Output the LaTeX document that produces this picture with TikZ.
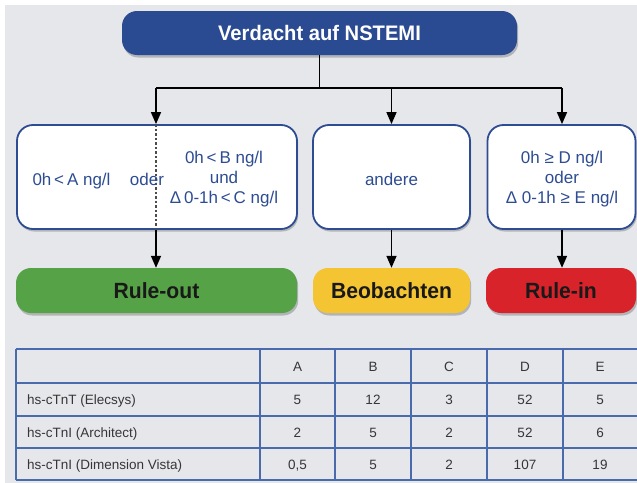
\documentclass[tikz,border=0pt]{standalone}
\usepackage{fontspec}
\setmainfont{Liberation Sans}
\newfontfamily\condbf[FakeStretch=0.96]{Liberation Sans}
\usetikzlibrary{arrows.meta,shadows}
\definecolor{bgray}{HTML}{E5E7EB}
\definecolor{topblue}{HTML}{2A4A91}
\definecolor{lineblue}{HTML}{2D4C92}
\definecolor{tabblue}{HTML}{4A6AAE}
\definecolor{okgreen}{HTML}{55A247}
\definecolor{warnyellow}{HTML}{F4C433}
\definecolor{alarmred}{HTML}{D8232A}
\definecolor{tabtext}{HTML}{363636}
\begin{document}
\begin{tikzpicture}[x=1pt,y=-1pt,
  shad/.style={drop shadow={shadow xshift=1.2pt,shadow yshift=-2.5pt,opacity=0.22,fill=black}},
  flowbox/.style={shad,draw=lineblue,line width=1.8pt,fill=white,rounded corners=16pt,inner sep=0pt},
  resbox/.style={shad,rounded corners=15pt,inner sep=0pt,minimum height=45,text=black!90,
    font=\condbf\bfseries\fontsize{22}{24}\selectfont},
  btxt/.style={text=lineblue,font=\fontsize{17}{20}\selectfont,align=center,inner sep=0pt,anchor=base},
  ttxt/.style={text=tabtext,font=\fontsize{13.5}{16}\selectfont,inner sep=0pt,anchor=base},
  arr/.style={draw=black,line width=1.5pt,-{Triangle[width=10pt,length=12pt]}},
  ln/.style={draw=black,line width=1.5pt},
  grid/.style={draw=tabblue,line width=1.5pt}]
\useasboundingbox (0,0) rectangle (637,482);
\fill[white] (0,0) rectangle (637,482);
\fill[bgray] (5,5) rectangle (640,485);

% top box
\node[shad,fill=topblue,rounded corners=15pt,minimum width=395,minimum height=44,inner sep=0pt,
  text=white,font=\condbf\bfseries\fontsize{21}{24}\selectfont] (top) at (319.5,33) {Verdacht auf NSTEMI};

% middle boxes
\node[flowbox,minimum width=280,minimum height=104] (b1) at (157,177) {};
\node[flowbox,minimum width=157,minimum height=104] (b2) at (391.5,177) {};
\node[flowbox,minimum width=148,minimum height=104] (b3) at (561.5,177) {};

% result boxes
\node[resbox,fill=okgreen,minimum width=281] (r1) at (156.5,290.5) {Rule-out};
\node[resbox,fill=warnyellow,minimum width=157] (r2) at (391.5,290.5) {Beobachten};
\node[resbox,fill=alarmred,minimum width=150] (r3) at (561,290.5) {Rule-in};

% connectors
\coordinate (j) at (319.5,88);
\coordinate (s1) at (156,88);
\coordinate (s2) at (391.5,88);
\coordinate (s3) at (562,88);
\draw[ln] (top.south) -- (j);
\draw[ln] (s1) -- (s3);
\draw[arr] (s1) -- (s1 |- b1.north);
\draw[arr] (s2) -- (s2 |- b2.north);
\draw[arr] (s3) -- (s3 |- b3.north);
\draw[draw=black!70,line width=1.1pt,dash pattern=on 2.5pt off 2pt] (s1 |- b1.north) -- (s1 |- b1.south);
\draw[arr] (s1 |- b1.south) -- (s1 |- r1.north);
\draw[arr] (s2 |- b2.south) -- (s2 |- r2.north);
\draw[arr] (s3 |- b3.south) -- (s3 |- r3.north);

% box texts
\node[btxt] (t1a) at (71.5,185) {0h\,<\,A ng/l};
\node[btxt] (t1b) at (147,185) {oder};
\node[btxt,anchor=north] (t1c) at (224,151) {0h\,<\,B ng/l\\und\\Δ\,0-1h\,<\,C ng/l};
\node[btxt] (t2) at (391.5,185) {andere};
\node[btxt,anchor=north] (t3) at (562,151) {0h ≥ D ng/l\\oder\\Δ 0-1h ≥ E ng/l};

% table grid
\foreach \yy in {349,383,416,448,480} \draw[grid] (16,\yy) -- (640,\yy);
\foreach \xx in {16,260,335,411,487,563} \draw[grid] (\xx,349) -- (\xx,480);

% table texts
\foreach \lab [count=\i] in {A,B,C,D,E} {
  \pgfmathsetmacro{\cx}{{297.5,373,449,525,600}[\i-1]}
  \node[ttxt] (h\i) at (\cx,371) {\lab};
}
\node[ttxt,anchor=base west] (n1) at (27,404.5) {hs-cTnT (Elecsys)};
\node[ttxt,anchor=base west] (n2) at (27,437) {hs-cTnI (Architect)};
\node[ttxt,anchor=base west] (n3) at (27,469) {hs-cTnI (Dimension Vista)};
\foreach \v [count=\i] in {5,12,3,52,5} {
  \pgfmathsetmacro{\cx}{{297.5,373,449,525,600}[\i-1]}
  \node[ttxt] (va\i) at (\cx,404.5) {\v};
}
\foreach \v [count=\i] in {2,5,2,52,6} {
  \pgfmathsetmacro{\cx}{{297.5,373,449,525,600}[\i-1]}
  \node[ttxt] (vb\i) at (\cx,437) {\v};
}
\foreach \v [count=\i] in {{0,5},5,2,107,19} {
  \pgfmathsetmacro{\cx}{{297.5,373,449,525,600}[\i-1]}
  \node[ttxt] (vc\i) at (\cx,469) {\v};
}
\end{tikzpicture}
\end{document}
